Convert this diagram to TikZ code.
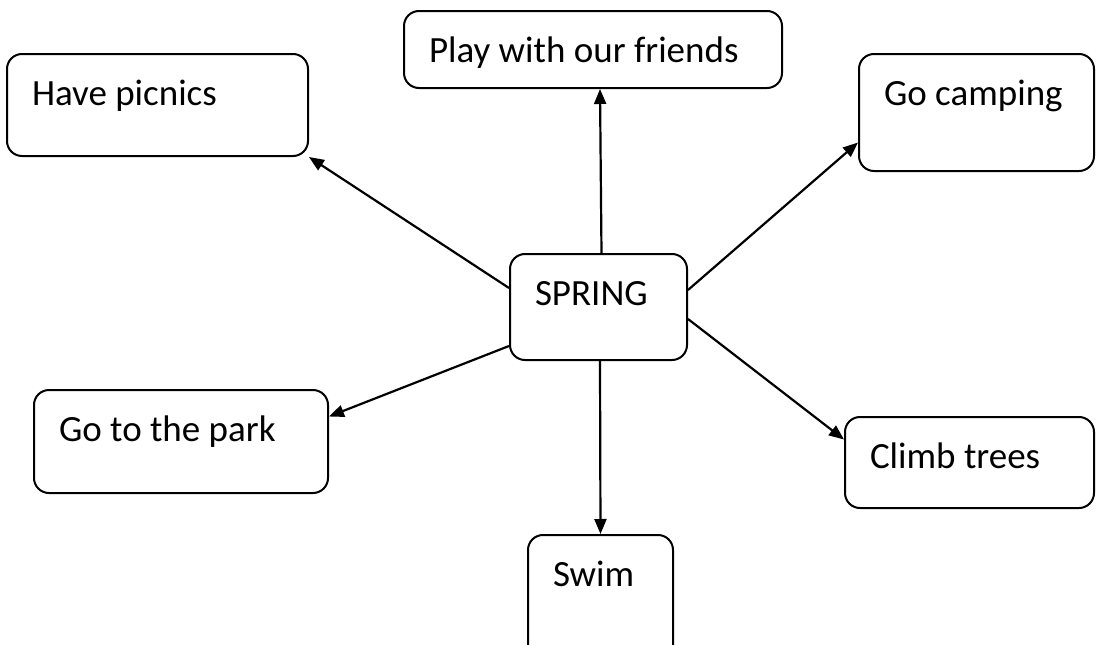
\documentclass[tikz,border=0pt]{standalone}
\usepackage{fontspec}
\setmainfont{Carlito}
\usetikzlibrary{arrows.meta}
\tikzset{
    idea/.style={draw, line width=2pt, rounded corners=15pt, anchor=north west,
        align=flush left, inner xsep=25pt, inner ysep=0pt, text height=51pt,
        font=\fontsize{37}{44}\selectfont},
    link/.style={line width=2.2pt, -{Triangle[length=15pt,width=12pt]}}
}

\begin{document}
\begin{tikzpicture}[x=1pt,y=-1pt]
\useasboundingbox (0,0) rectangle (1096,645);
\clip (0,0) rectangle (1096,645);
\node[idea, text width=127pt, text depth=55pt] (spring)  at (509,253) {SPRING};
\node[idea, text width=251pt, text depth=51pt] (picnics) at (6,53)    {Have picnics};
\node[idea, text width=328pt, text depth=26pt] (friends) at (403,10)  {Play with our friends};
\node[idea, text width=185pt, text depth=66pt] (camping) at (858,53)  {Go camping};
\node[idea, text width=244pt, text depth=52pt] (park)    at (33,389)  {Go to the park};
\node[idea, text width=199pt, text depth=40pt] (climb)   at (844,416) {Climb trees};
\node[idea, text width=95pt,  text depth=80pt] (swim)    at (527,534) {Swim};
\draw[link] ([yshift=19pt]spring.west)  -- (picnics.south east);
\draw[link] ([xshift=3pt]spring.north)  -- ([xshift=7pt]friends.south);
\draw[link] ([yshift=17pt]spring.east)  -- ([yshift=-30pt]camping.west);
\draw[link] ([yshift=-12pt]spring.east) -- ([yshift=23pt]climb.west);
\draw[link] ([yshift=-39pt]spring.west) -- ([yshift=25pt]park.east);
\draw[link] ([xshift=1.5pt]spring.south) -- (swim.north);
\end{tikzpicture}
\end{document}
